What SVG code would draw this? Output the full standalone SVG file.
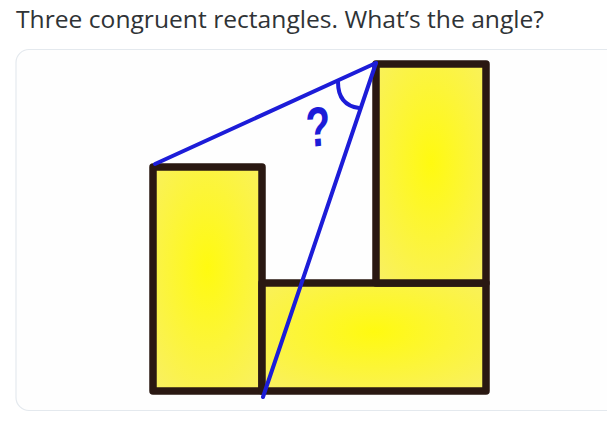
<svg xmlns="http://www.w3.org/2000/svg" width="607" height="425" viewBox="0 0 607 425">
<style>
.title{font-family:"Segoe UI","Open Sans","Noto Sans",sans-serif;font-size:23px;fill:#2f3336}
.rect{fill:url(#yel);stroke:#2a1812;stroke-width:7.5;stroke-linejoin:round}
.blue{stroke:#1c1cd8;stroke-width:4;fill:none;stroke-linecap:round}
.q{font-family:"Liberation Sans",Arial,sans-serif;font-weight:bold;font-size:56px;fill:#1c1cd8}
</style>
<defs>
<radialGradient id="yel" cx="0.5" cy="0.45" r="0.7">
<stop offset="0" stop-color="#fffa10"/>
<stop offset="1" stop-color="#f9f060"/>
</radialGradient>
</defs>
<rect width="607" height="425" fill="#ffffff"/>
<text class="title" x="16" y="28" textLength="528" lengthAdjust="spacingAndGlyphs">Three congruent rectangles. What’s the angle?</text>
<rect x="16" y="49.5" width="620" height="361" rx="13" fill="#fefefe" stroke="#e4e9ee" stroke-width="1.2"/>
<g id="rect-left"><rect class="rect" x="153" y="167" width="109" height="224"/></g>
<g id="rect-bottom"><rect class="rect" x="262" y="283" width="224" height="108"/></g>
<g id="rect-tall"><rect class="rect" x="376" y="64" width="110" height="219"/></g>
<g id="connectors">
<line class="blue" x1="155" y1="164" x2="376" y2="63"/>
<line class="blue" x1="376" y1="63" x2="263" y2="397"/>
<path class="blue" d="M338 82 C338 96 344 106 359 108"/>
</g>
<g id="label-q"><text class="q" transform="translate(319 146) scale(0.72 1) rotate(-4)" text-anchor="middle">?</text></g>
</svg>
